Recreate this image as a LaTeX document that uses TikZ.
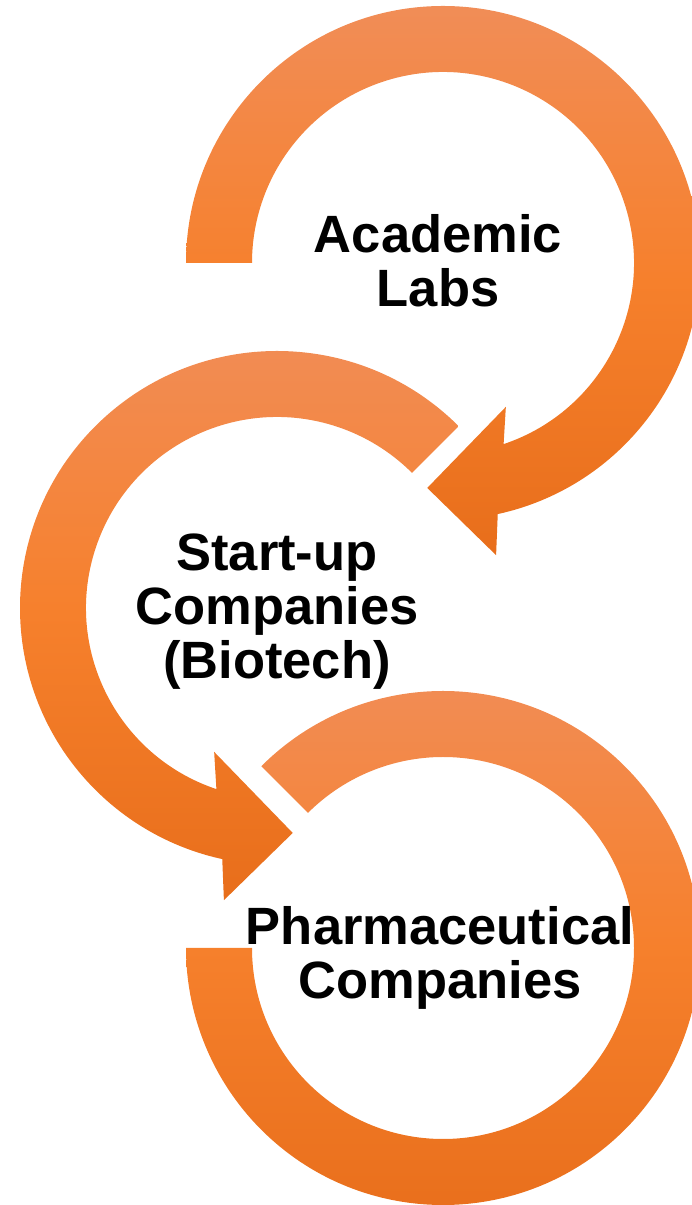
\documentclass[tikz,border=0pt]{standalone}
\usepackage{fontspec}
\setsansfont{Liberation Sans}
\usetikzlibrary{positioning}
\definecolor{cyclight}{RGB}{241,141,87}
\definecolor{cycmid}{RGB}{246,128,44}
\definecolor{cycdark}{RGB}{232,110,27}
\tikzset{
  cyc/.style={font=\sffamily\bfseries\fontsize{52.5}{54}\selectfont, text=black},
  cycring/.style={draw=none, top color=cyclight, bottom color=cycdark, middle color=cycmid},
  cyclbl/.style={cyc, align=center, inner sep=0pt},
}

\begin{document}
\begin{tikzpicture}[x=1pt, y=1pt]
  \useasboundingbox (0,0) rectangle (692,1205);
  \clip (0,0) rectangle (692,1205);
  \coordinate (labs) at (443,942);
  \coordinate (biotech) at (277,597);
  \coordinate (pharma) at (443,257);

  % labs -> start-ups
  \begin{scope}[shift={(labs)}]
    \path[cycring] (180:257) arc[start angle=180, end angle=-77.7, radius=257]
      -- (-79.7:297) -- (-94:225.5) -- (-66.4:157) -- (-71.5:191)
      arc[start angle=-71.5, end angle=180, radius=191] -- cycle;
  \end{scope}

  % start-ups -> pharma
  \begin{scope}[shift={(biotech)}]
    \path[cycring] (45:257) arc[start angle=45, end angle=257.7, radius=257]
      -- (259.7:297) -- (274:225.5) -- (246.4:157) -- (251.5:191)
      arc[start angle=251.5, end angle=45, radius=191] -- cycle;
  \end{scope}

  % pharma, no head
  \begin{scope}[shift={(pharma)}]
    \path[cycring] (135:257) arc[start angle=135, end angle=-180, radius=257]
      -- (180:191) arc[start angle=-180, end angle=135, radius=191] -- cycle;
  \end{scope}

  \node[cyclbl] (labstxt) at (438,944.5) {Academic\\Labs};
  \node[cyclbl] (biotechtxt) at (277,593.5) {Start-up\\Companies\\(Biotech)};
  \node[cyclbl] (pharmatxt) at (440,247.5) {Pharmaceutical\\Companies};
\end{tikzpicture}
\end{document}
